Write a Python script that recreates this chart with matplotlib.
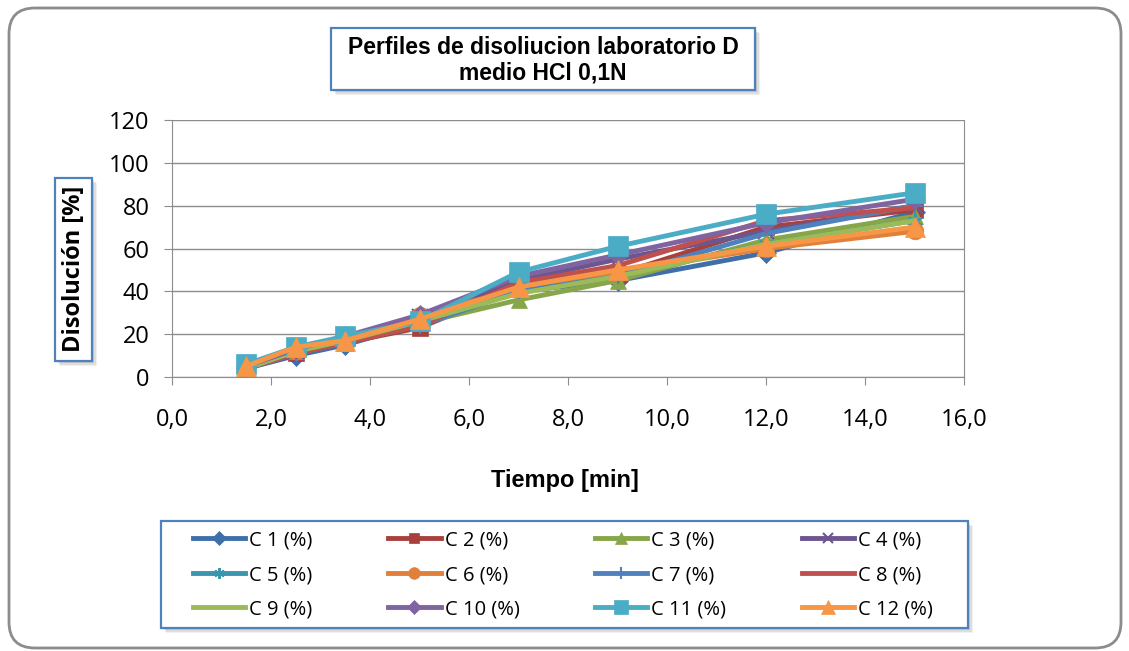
import matplotlib
matplotlib.use("Agg")
import matplotlib.pyplot as plt
from matplotlib.patches import Rectangle, FancyBboxPatch
from matplotlib.transforms import Affine2D
from matplotlib.ticker import FuncFormatter

W, H = 1129, 651

# Datos
tiempo = [1.5, 2.5, 3.5, 5, 7, 9, 12, 15]
c1 = [4, 10, 15, 25, 40, 45, 58, 77]
c2 = [4, 11, 16, 23, 42, 48, 70, 78]
c3 = [4, 12, 16, 25, 36, 45, 64, 75]
c4 = [5, 12, 18, 28, 45, 55, 68, 80]
c5 = [4, 11, 16, 25, 41, 48, 62, 73]
c6 = [5, 12, 17, 29, 41, 49, 60, 68]
c7 = [4, 11, 16, 24, 40, 47, 67, 80]
c8 = [4, 11, 16, 24, 44, 52, 73, 79]
c9 = [4, 12, 17, 26, 39, 47, 62, 73]
c10 = [5, 13, 19, 29, 47, 57, 72, 83]
c11 = [6, 14, 19, 26, 49, 61, 76, 86]
c12 = [5, 14, 17, 27, 42, 50, 61, 70]
series = [c1, c2, c3, c4, c5, c6, c7, c8, c9, c10, c11, c12]
labels = ["C %d (%%)" % i for i in range(1, 13)]

colores = ["#3F6FA8", "#A8413E", "#87A649", "#6C5690", "#3996AE", "#E0803A",
           "#4F81BD", "#C0504D", "#9BBB59", "#8064A2", "#4BACC6", "#F79646"]
marcadores = ["D", "s", "^", "x", (6, 2, 0), "o", "+", None, None, "D", "s", "^"]
tam = [10, 11, 12, 11, 11, 12, 12, 0, 0, 10, 14, 14]

fig = plt.figure(figsize=(W / 100, H / 100), dpi=100)
px = Affine2D().scale(1, -1).translate(0, H)  # coords en pixeles desde arriba


def caja(x0, y0, x1, y1, sombra=True):
    if sombra:
        for k, a in [(5, 0.06), (3.5, 0.08), (2, 0.1)]:
            fig.patches.append(Rectangle((x0 + k, y0 + k), x1 - x0, y1 - y0, transform=px,
                                         facecolor="#000000", edgecolor="none", alpha=a, zorder=1))
    fig.patches.append(Rectangle((x0, y0), x1 - x0, y1 - y0, transform=px,
                                 facecolor="white", edgecolor="#4F81BD", lw=1.6, zorder=2))


# borde exterior
fig.patches.append(FancyBboxPatch((9, 8), 1112, 640, boxstyle="round,pad=0,rounding_size=26",
                                  transform=px, facecolor="white", edgecolor="#8C8C8C", lw=2, zorder=-1))

ax = fig.add_axes([172 / W, 1 - 377 / H, 792 / W, 257 / H])
ax.set_zorder(1)
ax.patch.set_alpha(0)
lineas = []
for s, lab, col, m, ms in zip(series, labels, colores, marcadores, tam):
    l, = ax.plot(tiempo, s, color=col, lw=3.5, marker=m, markersize=ms,
                 markeredgewidth=1.5 if m in ("x", "+", (6, 2, 0)) else 0.5, label=lab)
    lineas.append(l)

ax.set_xlim(0, 16)
ax.set_ylim(0, 120)
ax.set_xticks(range(0, 17, 2))
ax.set_yticks(range(0, 121, 20))
ax.xaxis.set_major_formatter(FuncFormatter(lambda v, p: ("%.1f" % v).replace(".", ",")))
ax.yaxis.grid(True, color="#8C8C8C", lw=1)
ax.set_axisbelow(True)
for sp in ["left", "bottom", "right"]:
    ax.spines[sp].set_color("#8C8C8C")
ax.spines["top"].set_visible(False)
ax.tick_params(direction="out", length=6, color="#8C8C8C")
ax.tick_params(axis="y", pad=10)
ax.tick_params(axis="x", pad=16)
for t in ax.get_xticklabels() + ax.get_yticklabels():
    t.set_fontfamily("Open Sans")
    t.set_fontsize(17)

# titulo
caja(331, 28, 755, 90)
fig.text(543 / W, 1 - 60 / H, "Perfiles de disoliucion laboratorio D\nmedio HCl 0,1N",
         ha="center", va="center", fontsize=16.5, fontweight="bold",
         family="Liberation Sans", linespacing=1.15, zorder=3)

# etiqueta eje y
caja(55, 178, 92, 361)
fig.text(74 / W, 1 - 269 / H, "Disolución [%]", rotation=90, ha="center", va="center",
         fontsize=17, fontweight="bold", family="Open Sans", zorder=3)

# etiqueta eje x
fig.text(565 / W, 1 - 480 / H, "Tiempo [min]", ha="center", va="center",
         fontsize=17, fontweight="bold", family="Liberation Sans")

# leyenda (orden por filas como en Excel)
orden = [0, 4, 8, 1, 5, 9, 2, 6, 10, 3, 7, 11]
caja(161, 521, 968, 628)
leg = fig.legend([lineas[i] for i in orden], [labels[i] for i in orden],
                 loc="center", bbox_to_anchor=(189 / W, 1 - 627 / H, 748 / W, 104 / H),
                 mode="expand", ncol=4, frameon=False, handlelength=2.6, handletextpad=0.2,
                 markerscale=0.7, labelspacing=0.72, borderaxespad=0, borderpad=0.2,
                 prop={"family": "Open Sans", "size": 14.5})
leg.set_zorder(4)

fig.savefig("out.png", dpi=100)
